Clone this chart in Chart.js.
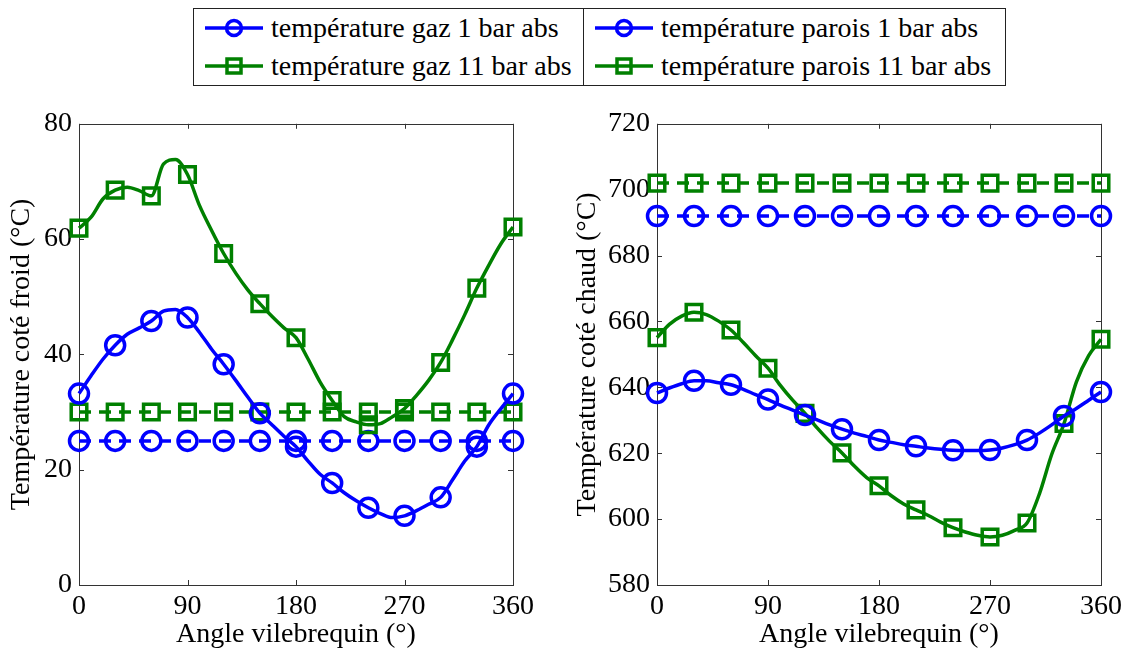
<!DOCTYPE html>
<html lang="fr">
<head>
<meta charset="UTF-8">
<title>Température coté froid / coté chaud</title>
<script src="https://cdn.jsdelivr.net/npm/chart.js"></script>
<style>
  body { margin: 0; background: #fff; font-family: "Liberation Serif", "Times New Roman", serif; }
  #page { position: relative; width: 1127px; height: 655px; overflow: hidden; }
  canvas { position: absolute; top: 100px; }
  #cLeft { left: 0; }
  #cRight { left: 560px; }
  #legend { position: absolute; left: 193px; top: 8px; width: 813px; height: 78px;
            border: 1px solid #222; display: flex; box-sizing: border-box; }
  .col { display: flex; flex-direction: column; }
  .col + .col { border-left: 1px solid #222; }
  .item { display: flex; align-items: center; height: 39px; font-size: 28px; color: #000; white-space: nowrap; }
  .item svg { margin: 0 8px 0 11px; }
</style>
</head>
<body>
<div id="page">
  <div id="legend">
    <div class="col" style="width:389px">
      <div class="item"><svg width="58" height="24"><line x1="0" y1="12" x2="58" y2="12" stroke="#0000ff" stroke-width="3.5"/><circle cx="29" cy="12" r="7.5" fill="none" stroke="#0000ff" stroke-width="3.5"/></svg>température gaz 1 bar abs</div>
      <div class="item"><svg width="58" height="24"><line x1="0" y1="12" x2="58" y2="12" stroke="#008000" stroke-width="3.5"/><rect x="22" y="5" width="14" height="14" fill="none" stroke="#008000" stroke-width="3.5"/></svg>température gaz 11 bar abs</div>
    </div>
    <div class="col">
      <div class="item"><svg width="58" height="24"><line x1="0" y1="12" x2="58" y2="12" stroke="#0000ff" stroke-width="3.5"/><circle cx="29" cy="12" r="7.5" fill="none" stroke="#0000ff" stroke-width="3.5"/></svg>température parois 1 bar abs</div>
      <div class="item"><svg width="58" height="24"><line x1="0" y1="12" x2="58" y2="12" stroke="#008000" stroke-width="3.5"/><rect x="22" y="5" width="14" height="14" fill="none" stroke="#008000" stroke-width="3.5"/></svg>température parois 11 bar abs</div>
    </div>
  </div>
  <canvas id="cLeft" width="560" height="555"></canvas>
  <canvas id="cRight" width="567" height="555"></canvas>
</div>

<script>
// angle vilebrequin (°)
const angles = [0, 10, 20, 30, 40, 50, 60, 70, 80, 90, 100, 110, 120, 130, 140, 150, 160, 170, 180,
                190, 200, 210, 220, 230, 240, 250, 260, 270, 280, 290, 300, 310, 320, 330, 340, 350, 360];
const markerAngles = [0, 30, 60, 90, 120, 150, 180, 210, 240, 270, 300, 330, 360];
const xTicks = [0, 90, 180, 270, 360];

// coté froid (°C)
const gazFroid1 = [33.2, 36.3, 39.2, 41.6, 43.5, 44.6, 45.8, 47.5, 47.8, 46.4, 43.8, 40.9, 38.3, 35.5, 32.6, 29.8, 27.8, 25.8, 24,
                   21.5, 19.2, 17.7, 16, 14.6, 13.4, 12.4, 11.7, 12, 12.9, 14, 15.2, 18.3, 21.5, 24, 27.8, 30.6, 33.2];
const gazFroid11 = [61.9, 63.8, 67, 68.5, 69, 68.4, 67.5, 73, 73.8, 71.2, 65.8, 61.5, 57.5, 54.1, 51.2, 48.8, 46.6, 44.6, 42.9,
                    39.2, 35.2, 32, 29.2, 28.3, 27.8, 28, 29.2, 30.6, 32.9, 35.5, 38.6, 42.6, 46.9, 51.5, 55.5, 59.2, 62.1];
const paroisFroid1 = [25, 25, 25, 25, 25, 25, 25, 25, 25, 25, 25, 25, 25];
const paroisFroid11 = [30, 30, 30, 30, 30, 30, 30, 30, 30, 30, 30, 30, 30];

// coté chaud (°C)
const gazChaud1 = [638.3, 639.8, 641.1, 642, 642, 641.4, 640.8, 639.4, 637.8, 636.3, 634.6, 633.1, 631.6, 630.1, 628.6, 627.3, 626.1, 625.1, 624,
                   623.3, 622.6, 622.1, 621.6, 621.2, 620.9, 620.8, 620.8, 621, 621.6, 622.6, 624, 626.1, 628.6, 631.3, 633.6, 636.1, 638.6];
const gazChaud11 = [655.1, 659.1, 661.6, 662.8, 662.1, 660.1, 657.4, 653.6, 649.6, 645.8, 640.6, 636.1, 632.1, 627.6, 623.6, 620.1, 616.1, 612.6, 610.1,
                    607.1, 604.6, 602.8, 601.1, 599.1, 597.4, 596.1, 595.1, 594.6, 595.1, 596.6, 598.8, 607.6, 619.6, 629, 641.6, 649.6, 654.6];
const paroisChaud1 = [692, 692, 692, 692, 692, 692, 692, 692, 692, 692, 692, 692, 692];
const paroisChaud11 = [702, 702, 702, 702, 702, 702, 702, 702, 702, 702, 702, 702, 702];

const BLUE = '#0000ff';
const GREEN = '#008000';
const FONT = '"Liberation Serif", "Times New Roman", serif';

const pts = (xs, ys) => xs.map((x, i) => ({ x: x, y: ys[i] }));

const gazSet = (values, color, style) => ({
  data: pts(angles, values),
  borderColor: color,
  borderWidth: 3.5,
  pointStyle: style,
  pointRadius: c => (c.raw && c.raw.x % 30 === 0 ? (style === 'rect' ? 11 : 9.5) : 0),
  pointBorderWidth: 3.5,
  pointBorderColor: color,
  pointBackgroundColor: 'transparent',
  cubicInterpolationMode: 'monotone',
  clip: false
});

const paroisSet = (values, color, style) => ({
  data: pts(markerAngles, values),
  borderColor: color,
  borderWidth: 3.5,
  borderDash: [12, 8],
  pointStyle: style,
  pointRadius: style === 'rect' ? 11 : 9.5,
  pointBorderWidth: 3.5,
  pointBorderColor: color,
  pointBackgroundColor: 'transparent',
  clip: false
});

// axes box with inward ticks, matlab style
const frame = {
  id: 'frame',
  beforeDatasetsDraw(chart) {
    const { ctx, chartArea: a, scales } = chart;
    ctx.save();
    ctx.strokeStyle = '#333';
    ctx.lineWidth = 1;
    ctx.strokeRect(Math.round(a.left) + 0.5, Math.round(a.top) + 0.5,
                   Math.round(a.right - a.left), Math.round(a.bottom - a.top));
    ctx.beginPath();
    scales.x.ticks.forEach(t => {
      const px = Math.round(scales.x.getPixelForValue(t.value)) + 0.5;
      ctx.moveTo(px, a.bottom); ctx.lineTo(px, a.bottom - 5);
      ctx.moveTo(px, a.top); ctx.lineTo(px, a.top + 5);
    });
    scales.y.ticks.forEach(t => {
      const py = Math.round(scales.y.getPixelForValue(t.value)) + 0.5;
      ctx.moveTo(a.left, py); ctx.lineTo(a.left + 5, py);
      ctx.moveTo(a.right, py); ctx.lineTo(a.right - 5, py);
    });
    ctx.stroke();
    ctx.restore();
  }
};

const makeChart = (id, datasets, yMin, yMax, yTitle, yWidth, rightPad, titlePad) => new Chart(document.getElementById(id), {
  type: 'line',
  data: { datasets: datasets },
  options: {
    responsive: false,
    animation: false,
    layout: { padding: { top: 19, right: rightPad, bottom: 0, left: 0 } },
    plugins: { legend: { display: false }, tooltip: { enabled: false } },
    scales: {
      x: {
        type: 'linear', min: 0, max: 360,
        afterBuildTicks: s => { s.ticks = xTicks.map(v => ({ value: v })); },
        afterFit: s => { s.height = 70; },
        grid: { display: false, drawTicks: false },
        border: { display: false },
        ticks: { color: '#000', padding: 5, maxRotation: 0, font: { family: FONT, size: 28 } },
        title: { display: true, text: 'Angle vilebrequin (°)', color: '#000', padding: { top: 0, bottom: 4 },
                 font: { family: FONT, size: 28 } }
      },
      y: {
        min: yMin, max: yMax,
        ticks: { stepSize: 20, color: '#000', padding: 7, font: { family: FONT, size: 28 } },
        afterFit: s => { s.width = yWidth; },
        grid: { display: false, drawTicks: false },
        border: { display: false },
        title: { display: true, text: yTitle, color: '#000', padding: { top: titlePad, bottom: 0 },
                 font: { family: FONT, size: 28 } }
      }
    }
  },
  plugins: [frame]
});

makeChart('cLeft', [
  gazSet(gazFroid1, BLUE, 'circle'),
  gazSet(gazFroid11, GREEN, 'rect'),
  paroisSet(paroisFroid1, BLUE, 'circle'),
  paroisSet(paroisFroid11, GREEN, 'rect')
], 0, 80, 'Température coté froid (°C)', 79, 47, 5);

makeChart('cRight', [
  gazSet(gazChaud1, BLUE, 'circle'),
  gazSet(gazChaud11, GREEN, 'rect'),
  paroisSet(paroisChaud1, BLUE, 'circle'),
  paroisSet(paroisChaud11, GREEN, 'rect')
], 580, 720, 'Température coté chaud (°C)', 97, 25, 11);
</script>
</body>
</html>
